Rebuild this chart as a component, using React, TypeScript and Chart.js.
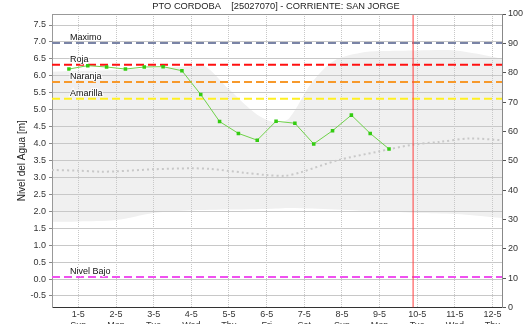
import React, { useEffect, useRef } from "react";
import { Chart, registerables } from "chart.js";

Chart.register(...registerables);

// ---- data ----
const titleText = "PTO CORDOBA    [25027070] - CORRIENTE: SAN JORGE";
const yTitle = "Nivel del Agua [m]";

const dayTicks = [1, 2, 3, 4, 5, 6, 7, 8, 9, 10, 11, 12];
const dayLabels = ["1-5", "2-5", "3-5", "4-5", "5-5", "6-5", "7-5", "8-5", "9-5", "10-5", "11-5", "12-5"];
const weekdayLabels = ["Sun", "Mon", "Tue", "Wed", "Thu", "Fri", "Sat", "Sun", "Mon", "Tue", "Wed", "Thu"];

const levelTicks = [-0.5, 0, 0.5, 1, 1.5, 2, 2.5, 3, 3.5, 4, 4.5, 5, 5.5, 6, 6.5, 7, 7.5];

const levelTimes = [0.75, 1.25, 1.75, 2.25, 2.75, 3.25, 3.75, 4.25, 4.75, 5.25, 5.75, 6.25, 6.75, 7.25, 7.75, 8.25, 8.75, 9.25];
const levelValues = [6.2, 6.3, 6.26, 6.2, 6.26, 6.27, 6.15, 5.45, 4.65, 4.3, 4.1, 4.66, 4.6, 3.99, 4.38, 4.84, 4.3, 3.84];

const bandTimes = [0.3, 1.0, 2.0, 3.0, 4.0, 4.35, 5.0, 5.75, 6.25, 6.6, 7.2, 7.8, 8.5, 9.0, 10.0, 11.0, 11.6, 12.25];
const bandUpper = [6.12, 6.14, 6.17, 6.22, 6.28, 6.3, 5.6, 4.85, 4.62, 4.75, 5.8, 6.45, 6.68, 6.73, 6.75, 6.75, 6.65, 6.5];
const bandLower = [1.69, 1.7, 1.74, 1.95, 2.03, 2.04, 2.05, 2.06, 2.08, 2.1, 2.08, 2.05, 2.02, 2.0, 1.95, 1.92, 1.87, 1.8];

const medianTimes = [0.3, 1.0, 1.6, 2.0, 3.0, 4.0, 4.5, 5.4, 6.0, 6.5, 6.9, 7.9, 8.95, 9.85, 10.6, 11.4, 12.25];
const medianValues = [3.22, 3.2, 3.17, 3.18, 3.24, 3.27, 3.25, 3.14, 3.07, 3.05, 3.15, 3.51, 3.76, 3.96, 4.05, 4.15, 4.1];

const thresholdNames = ["Maximo", "Roja", "Naranja", "Amarilla", "Nivel Bajo"];
const thresholdValues = [6.97, 6.33, 5.82, 5.32, 0.06];
const thresholdColors = ["#7a84a6", "#ff1010", "#f7992b", "#fff020", "#f050f0"];

const nowDay = 9.89;

const xMin = 0.3;
const xMax = 12.25;
const yMin = -0.84;
const yMax = 7.825;
const y1Min = 0;
const y1Max = 100;

const FONT = "'Liberation Sans', Arial, sans-serif";

export default function App() {
  const ref = useRef<HTMLCanvasElement | null>(null);

  useEffect(() => {
    const canvas = ref.current;
    if (!canvas) return;

    const pts = (xs: number[], ys: number[]) => xs.map((x, i) => ({ x, y: ys[i] }));

    const overlay = {
      id: "overlay",
      afterDatasetsDraw(chart: any) {
        const { ctx, chartArea, scales } = chart;
        const ys = scales.y;
        ctx.save();
        ctx.font = `9px ${FONT}`;
        ctx.fillStyle = "#111";
        ctx.textAlign = "left";
        ctx.textBaseline = "bottom";
        thresholdNames.forEach((name, i) => {
          const py = ys.getPixelForValue(thresholdValues[i]);
          ctx.strokeStyle = "rgba(255,255,255,0.8)";
          ctx.lineWidth = 2;
          ctx.strokeText(name, chartArea.left + 18, py - 1);
          ctx.fillText(name, chartArea.left + 18, py - 1);
        });
        ctx.restore();
      },
      afterDraw(chart: any) {
        const { ctx, chartArea } = chart;
        ctx.save();
        // top border
        ctx.strokeStyle = "#999";
        ctx.lineWidth = 1;
        ctx.beginPath();
        ctx.moveTo(chartArea.left, chartArea.top + 0.5);
        ctx.lineTo(chartArea.right, chartArea.top + 0.5);
        ctx.stroke();
        // title
        ctx.fillStyle = "#222";
        ctx.font = `9.3px ${FONT}`;
        ctx.textAlign = "center";
        ctx.textBaseline = "middle";
        ctx.fillText(titleText, 276, 6);
        // y title
        ctx.font = `10px ${FONT}`;
        ctx.translate(22, (chartArea.top + chartArea.bottom) / 2);
        ctx.rotate(-Math.PI / 2);
        ctx.fillText(yTitle, 0, 0);
        ctx.restore();
      },
    };

    const datasets: any[] = [
      {
        label: "nivel",
        data: pts(levelTimes, levelValues),
        borderColor: "#6fd24a",
        borderWidth: 1,
        pointStyle: "rect",
        pointRadius: 2.5,
        pointBackgroundColor: "#33cc11",
        pointBorderColor: "#33cc11",
        pointBorderWidth: 0,
        tension: 0,
        yAxisID: "y",
      },
      {
        label: "hoy",
        data: [
          { x: nowDay, y: yMin },
          { x: nowDay, y: yMax },
        ],
        borderColor: "rgba(255,70,70,0.7)",
        borderWidth: 1.5,
        pointRadius: 0,
        yAxisID: "y",
      },
      ...thresholdNames.map((name, i) => ({
        label: name,
        data: [
          { x: xMin, y: thresholdValues[i] },
          { x: xMax, y: thresholdValues[i] },
        ],
        borderColor: thresholdColors[i],
        borderWidth: 2,
        borderDash: [8, 4],
        pointRadius: 0,
        yAxisID: "y",
      })),
      {
        label: "mediana",
        data: pts(medianTimes, medianValues),
        borderColor: "#c8c8c8",
        borderWidth: 2,
        borderDash: [2, 3],
        pointRadius: 0,
        tension: 0.3,
        yAxisID: "y",
      },
      {
        label: "max",
        data: pts(bandTimes, bandUpper),
        borderWidth: 0,
        borderColor: "rgba(0,0,0,0)",
        backgroundColor: "#f0f0f0",
        fill: "+1",
        pointRadius: 0,
        tension: 0.3,
        yAxisID: "y",
      },
      {
        label: "min",
        data: pts(bandTimes, bandLower),
        borderWidth: 0,
        borderColor: "rgba(0,0,0,0)",
        pointRadius: 0,
        fill: false,
        tension: 0.3,
        yAxisID: "y",
      },
    ];

    const chart = new Chart(canvas, {
      type: "line",
      data: { datasets },
      plugins: [overlay],
      options: {
        animation: false,
        responsive: false,
        maintainAspectRatio: false,
        layout: { padding: { top: 14, left: 0, right: 0, bottom: 0 } },
        plugins: {
          legend: { display: false },
          tooltip: { enabled: false },
          title: { display: false },
          filler: { drawTime: "beforeDraw" } as any,
        },
        scales: {
          x: {
            type: "linear",
            min: xMin,
            max: xMax,
            afterBuildTicks: (scale: any) => {
              scale.ticks = dayTicks.map((v) => ({ value: v }));
            },
            afterFit: (scale: any) => {
              scale.height = 16.5;
            },
            ticks: {
              autoSkip: false,
              maxRotation: 0,
              padding: 2,
              color: "#333",
              font: { family: FONT, size: 9 },
              callback: (_v: any, i: number) => [dayLabels[i], weekdayLabels[i]],
            },
            grid: {
              color: "#c8c8c8",
              borderDash: [2, 2],
              drawTicks: false,
            } as any,
            border: { color: "#333", width: 1, dash: [1, 1] },
          },
          y: {
            type: "linear",
            position: "left",
            min: yMin,
            max: yMax,
            afterBuildTicks: (scale: any) => {
              scale.ticks = levelTicks.map((v) => ({ value: v }));
            },
            afterFit: (scale: any) => {
              scale.width = 52;
            },
            ticks: {
              padding: 3,
              color: "#333",
              font: { family: FONT, size: 9 },
              callback: (v: any) => Number(v).toFixed(1),
            },
            grid: {
              color: "#c8c8c8",
              borderDash: [2, 2],
              tickLength: 3,
              tickColor: "#888",
              tickBorderDash: [],
            } as any,
            border: { color: "#999", width: 1 },
          },
          y1: {
            type: "linear",
            position: "right",
            min: y1Min,
            max: y1Max,
            afterFit: (scale: any) => {
              scale.width = 21;
            },
            ticks: {
              stepSize: 10,
              padding: 2,
              color: "#333",
              font: { family: FONT, size: 9 },
            },
            grid: {
              drawOnChartArea: false,
              tickLength: 4,
              tickColor: "#555",
            },
            border: { color: "#888", width: 1 },
          },
        },
      },
    });

    return () => chart.destroy();
  }, []);

  return (
    <div style={{ position: "absolute", left: 0, top: 0, width: 523, height: 324, background: "#fff" }}>
      <canvas ref={ref} width={523} height={324} style={{ display: "block" }} />
    </div>
  );
}
